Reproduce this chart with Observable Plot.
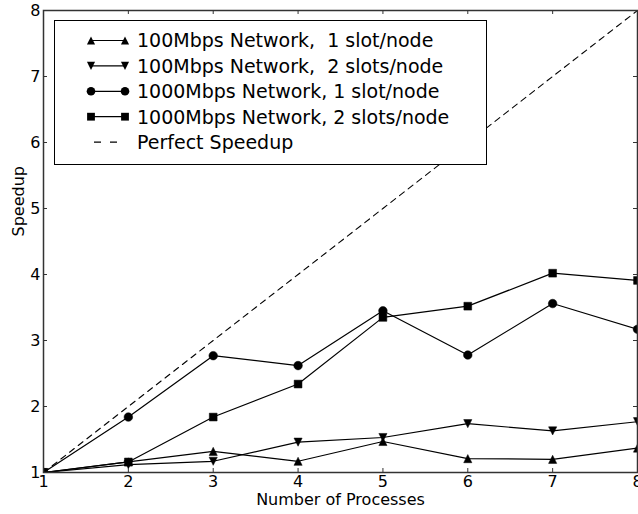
<!DOCTYPE html>
<html>
<head>
<meta charset="utf-8">
<script src="https://cdn.jsdelivr.net/npm/d3@7"></script>
<script src="https://cdn.jsdelivr.net/npm/@observablehq/plot@0.6"></script>
<style>
  html, body { margin: 0; padding: 0; background: #fff; }
  svg { font-family: "DejaVu Sans", sans-serif; }
</style>
</head>
<body>
<div id="chart"></div>
<script>
const processes = [1, 2, 3, 4, 5, 6, 7, 8];
const net100slot1 = [1.0, 1.16, 1.32, 1.17, 1.47, 1.21, 1.20, 1.37];
const net100slot2 = [1.0, 1.12, 1.17, 1.46, 1.53, 1.74, 1.63, 1.77];
const net1000slot1 = [1.0, 1.84, 2.77, 2.62, 3.45, 2.78, 3.56, 3.17];
const net1000slot2 = [1.0, 1.16, 1.84, 2.34, 3.35, 3.52, 4.02, 3.91];
const perfect = [1, 2, 3, 4, 5, 6, 7, 8];
const seriesNames = [
  "100Mbps Network,  1 slot/node",
  "100Mbps Network,  2 slots/node",
  "1000Mbps Network, 1 slot/node",
  "1000Mbps Network, 2 slots/node",
  "Perfect Speedup"
];
const ticks = [1, 2, 3, 4, 5, 6, 7, 8];

// matplotlib-like triangle markers (width == height)
const triUp = {draw(ctx, size) { const s = Math.sqrt(size) / 2; ctx.moveTo(0, -s); ctx.lineTo(s, s); ctx.lineTo(-s, s); ctx.closePath(); }};
const triDown = {draw(ctx, size) { const s = Math.sqrt(size) / 2; ctx.moveTo(0, s); ctx.lineTo(s, -s); ctx.lineTo(-s, -s); ctx.closePath(); }};

const series = [
  {name: seriesNames[0], values: net100slot1, symbol: triUp, r: 4.6},
  {name: seriesNames[1], values: net100slot2, symbol: triDown, r: 4.6},
  {name: seriesNames[2], values: net1000slot1, symbol: d3.symbolCircle, r: 4.3},
  {name: seriesNames[3], values: net1000slot2, symbol: d3.symbolSquare, r: 4.4}
];

const rows = series.map(s => processes.map((p, i) => ({x: p, y: s.values[i], name: s.name})));
const perfectRows = processes.map((p, i) => ({x: p, y: perfect[i]}));

const W = 638, H = 514, ML = 43, MR = 1, MT = 10, MB = 42, TICK = 4;
const frameW = W - ML - MR, frameH = H - MT - MB;

function legend() {
  return () => {
    const g = d3.create("svg:g").attr("text-anchor", "start");
    g.append("rect").attr("x", 54.5).attr("y", 20.5).attr("width", 432).attr("height", 144)
      .attr("fill", "#fff").attr("stroke", "#000").attr("stroke-width", 1);
    const y0 = 40.5, dy = 25.4;
    series.forEach((s, i) => {
      const y = y0 + i * dy;
      g.append("line").attr("x1", 91).attr("x2", 125).attr("y1", y).attr("y2", y)
        .attr("stroke", "#000").attr("stroke-width", 1.2);
      const path = d3.symbol(s.symbol, Math.PI * s.r * s.r)();
      [91, 125].forEach(x => g.append("path").attr("d", path).attr("transform", `translate(${x},${y})`).attr("fill", "#000"));
      g.append("text").attr("x", 137).attr("y", y).attr("dy", "0.36em").attr("text-anchor", "start")
        .attr("font-size", 19).attr("fill", "#000").style("white-space", "pre").text(s.name);
    });
    const y = y0 + 4 * dy;
    g.append("line").attr("x1", 94).attr("x2", 124).attr("y1", y).attr("y2", y)
      .attr("stroke", "#000").attr("stroke-width", 1.2).attr("stroke-dasharray", "7,9");
    g.append("text").attr("x", 137).attr("y", y).attr("dy", "0.36em").attr("text-anchor", "start")
      .attr("font-size", 19).attr("fill", "#000").style("white-space", "pre").text(seriesNames[4]);
    return g.node();
  };
}

const marks = [
  Plot.line(perfectRows, {x: "x", y: "y", stroke: "#000", strokeWidth: 1.1, strokeDasharray: "6,5", clip: true}),
];
series.forEach((s, i) => {
  marks.push(Plot.line(rows[i], {x: "x", y: "y", stroke: "#000", strokeWidth: 1.2, clip: true}));
  marks.push(Plot.dot(rows[i], {x: "x", y: "y", symbol: s.symbol, r: s.r, fill: "#000", stroke: "#000", strokeWidth: 0.5, clip: true}));
});
marks.push(
  // inward ticks on all four sides
  Plot.tickX(ticks, {x: d => d, insetTop: frameH - TICK, stroke: "#333"}),
  Plot.tickX(ticks, {x: d => d, insetBottom: frameH - TICK, stroke: "#333"}),
  Plot.tickY(ticks, {y: d => d, insetRight: frameW - TICK, stroke: "#333"}),
  Plot.tickY(ticks, {y: d => d, insetLeft: frameW - TICK, stroke: "#333"}),
  Plot.frame({stroke: "#333", strokeWidth: 1.5}),
  Plot.axisX(ticks, {anchor: "bottom", tickSize: 0, tickPadding: 3, fontSize: 16, label: null, tickFormat: d3.format("d")}),
  Plot.axisY(ticks, {anchor: "left", tickSize: 0, tickPadding: 3, fontSize: 16, label: null, tickFormat: d3.format("d")}),
  Plot.text(["Number of Processes"], {frameAnchor: "bottom", dy: 32, fontSize: 16, fill: "#000"}),
  Plot.text(["Speedup"], {frameAnchor: "left", dx: -25, dy: -5, rotate: -90, fontSize: 16, fill: "#000"}),
  legend()
);

const chart = Plot.plot({
  width: W,
  height: H,
  marginLeft: ML,
  marginRight: MR,
  marginTop: MT,
  marginBottom: MB,
  style: {fontFamily: "DejaVu Sans, sans-serif", fontSize: "16px", color: "#000", background: "#fff"},
  x: {domain: [1, 8], axis: null},
  y: {domain: [1, 8], axis: null},
  marks
});
document.getElementById("chart").appendChild(chart);
</script>
</body>
</html>
